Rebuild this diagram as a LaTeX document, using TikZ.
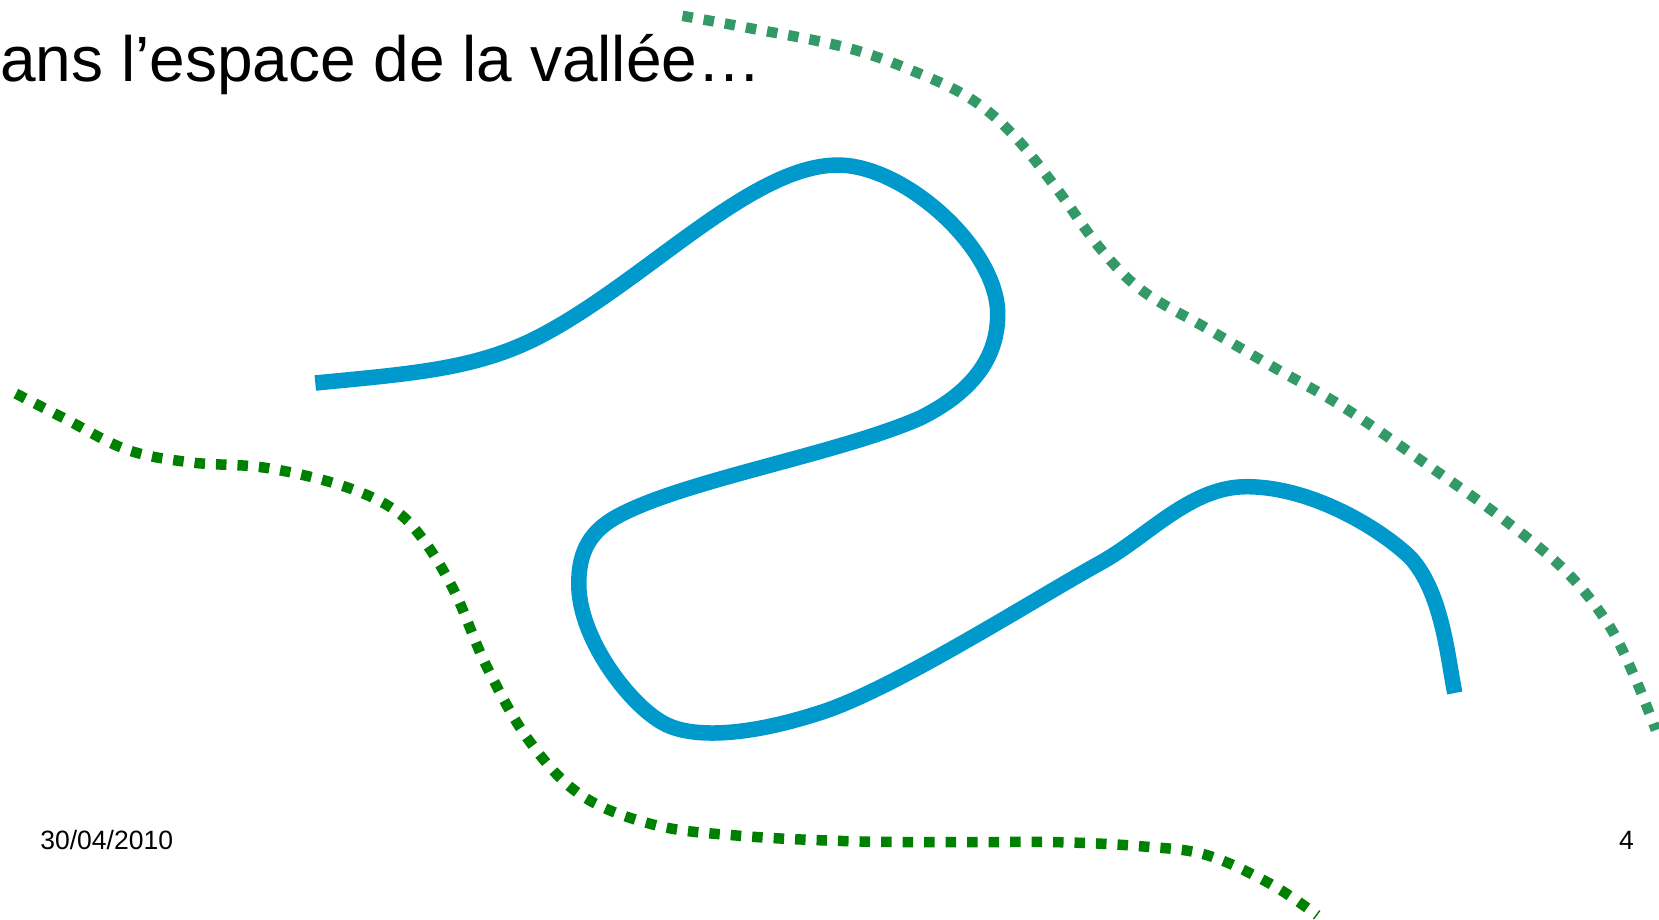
\documentclass[tikz,border=0pt]{standalone}
\usepackage{fontspec}
\setmainfont{Liberation Sans}
\definecolor{riverblue}{RGB}{0,153,204}
\definecolor{darkgreen}{RGB}{0,128,0}
\definecolor{lightgreen}{RGB}{51,153,102}
\begin{document}
\begin{tikzpicture}[x=1.05804pt,y=-1.05804pt,
  river/.style={draw=riverblue,line width=15.5pt},
  border/.style={line width=10.5pt,dash pattern=on 10.5pt off 11pt},
  lbl/.style={inner sep=0pt,anchor=base west}]
\useasboundingbox (0,0) rectangle (1568,869.5);
\node[lbl,font=\fontsize{64}{66}\selectfont] (title) at (0,77) {ans l’espace de la vallée…};
\node[lbl,font=\fontsize{26.5}{28}\selectfont] (date) at (38,803) {30/04/2010};
\node[lbl,font=\fontsize{26.5}{28}\selectfont] (page) at (1530,803) {4};
\draw[river] (298,362) .. controls (390,353) and (450,349) .. (510,318)
  .. controls (610,266) and (710,156) .. (792,156)
  .. controls (855,156) and (943,235) .. (943,297)
  .. controls (943,345) and (910,375) .. (870,395)
  .. controls (790,430) and (640,455) .. (580,490)
  .. controls (555,505) and (547,525) .. (547,552)
  .. controls (547,605) and (598,670) .. (630,685)
  .. controls (655,697) and (705,697) .. (780,672)
  .. controls (850,648) and (980,565) .. (1040,532)
  .. controls (1085,507) and (1125,460) .. (1178,460)
  .. controls (1240,460) and (1305,500) .. (1333,527)
  .. controls (1363,560) and (1368,620) .. (1375,655);
\draw[border,draw=darkgreen] plot[smooth,tension=0.6] coordinates {(15,372) (60,395) (120,425) (180,437) (250,442) (320,458) (370,480) (400,510) (430,560) (460,630) (500,700) (550,752) (620,780) (700,790) (800,795) (900,796) (1000,796) (1080,800) (1140,808) (1200,835) (1245,865)};
\draw[border,draw=lightgreen] plot[smooth,tension=0.6] coordinates {(645,15) (700,25) (800,45) (870,70) (920,95) (960,130) (1000,180) (1040,235) (1080,275) (1140,310) (1200,345) (1270,385) (1350,440) (1420,490) (1480,540) (1520,590) (1545,640) (1565,690)};
\end{tikzpicture}
\end{document}
